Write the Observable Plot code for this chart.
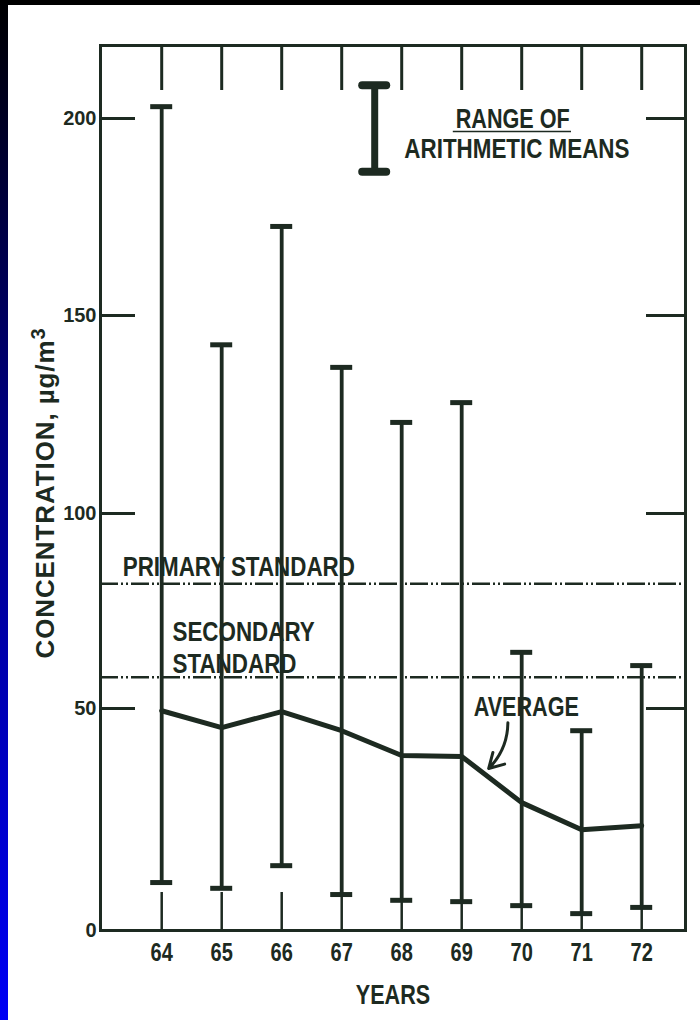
<!DOCTYPE html>
<html><head><meta charset="utf-8">
<script src="https://cdn.jsdelivr.net/npm/d3@7"></script>
<script src="https://cdn.jsdelivr.net/npm/@observablehq/plot@0.6"></script>
<style>
html,body{margin:0;padding:0;background:#fff;width:700px;height:1020px;overflow:hidden}
#topband{position:absolute;left:0;top:0;width:700px;height:5px;background:#000;z-index:2}
#leftband{position:absolute;left:0;top:0;width:8px;height:1020px;background:linear-gradient(#000 0%,#00007a 40%,#0000f5 100%);z-index:2}
#chart{position:absolute;left:0;top:0}
</style></head><body>
<div id="chart"></div><div id="topband"></div><div id="leftband"></div>
<script>
// ---- data ----
const years = [64, 65, 66, 67, 68, 69, 70, 71, 72];
const rangeHigh = [203, 142.6, 172.6, 136.9, 123, 128, 64.4, 45, 61];
const rangeLow = [10.8, 9.5, 14.6, 8.1, 6.8, 6.5, 5.6, 3.8, 5.2];
const average = [49.5, 45.7, 49.3, 45.0, 39.4, 39.2, 28.8, 22.7, 23.6];
const standardNames = ["PRIMARY STANDARD", "SECONDARY\nSTANDARD"];
const standardValues = [82, 58];
const yTicks = [0, 50, 100, 150, 200];
const xTicks = years;
const xLabel = "YEARS";
const yLabel = "CONCENTRATION, \u00B5g/m";
const yLabelSup = "3";
const legendLines = ["RANGE OF", "ARITHMETIC MEANS"];
const averageLabel = "AVERAGE";

// ---- build table ----
const table = years.map((year, i) => ({year, high: rangeHigh[i], low: rangeLow[i], avg: average[i]}));

const ink = "#1d2a21";
const font = "'Liberation Sans',Arial,sans-serif";
const T = {fontFamily: font, fontWeight: "bold", fill: ink};

// the scanned axis is slightly uneven: warp values through its printed tick marks
const yWarp = d3.scaleLinear().domain([0, 50, 100, 150, 200, 218.5]).range([0, 222, 417, 615, 812, 885]);
// axis marks work in the (warped) scale space
const yTickPos = yTicks.map(yWarp);
const yTickFmt = d => String(Math.round(yWarp.invert(d)));

const chart = Plot.plot({
  width: 700,
  height: 1020,
  marginLeft: 100,
  marginRight: 15,
  marginTop: 45,
  marginBottom: 90,
  style: {background: "transparent", color: ink, fontFamily: font},
  x: {domain: [62.98, 72.73]},
  y: {transform: yWarp, domain: [0, 885]},
  marks: [
    // standards
    Plot.ruleY(standardValues, {y: d => d, stroke: ink, strokeWidth: 2.5, strokeDasharray: "18,3,2,3,2,3"}),
    // range bars
    Plot.ruleX(table, {x: "year", y1: "low", y2: "high", stroke: ink, strokeWidth: 3.8}),
    Plot.ruleY(table, {y: "high", x1: "year", x2: "year", insetLeft: -11, insetRight: -11, stroke: ink, strokeWidth: 5}),
    Plot.ruleY(table, {y: "low", x1: "year", x2: "year", insetLeft: -11, insetRight: -11, stroke: ink, strokeWidth: 5}),
    // average line
    Plot.line(table, {x: "year", y: "avg", stroke: ink, strokeWidth: 5, strokeLinejoin: "round"}),
    // frame and inner ticks
    Plot.frame({stroke: ink, strokeWidth: 3}),
    Plot.axisX({anchor: "top", ticks: xTicks, tickSize: -44, strokeWidth: 3, fill: "none", label: null}),
    Plot.axisX({anchor: "bottom", ticks: xTicks, tickSize: -38, strokeWidth: 2.5, fill: "none", label: null}),
    Plot.axisY({anchor: "left", ticks: yTickPos.slice(1), tickSize: -35, strokeWidth: 3, fill: "none", label: null}),
    Plot.axisY({anchor: "right", ticks: yTickPos.slice(1), tickSize: -40, strokeWidth: 3, fill: "none", label: null}),
    // tick labels
    Plot.axisX({anchor: "bottom", ticks: xTicks, tickSize: 0, tickPadding: 13, fontSize: 25, fontWeight: "bold", fontFamily: font, label: null, tickFormat: d => String(d)}),
    Plot.axisY({anchor: "left", ticks: yTickPos, tickSize: 0, tickPadding: 4, fontSize: 20, fontWeight: "bold", fontFamily: font, label: null, tickFormat: yTickFmt, className: "ytick"}),
    // axis titles
    Plot.text([xLabel], {text: d => d, frameAnchor: "bottom", dy: 73, lineAnchor: "bottom", fontSize: 27, ...T}),
    Plot.text([yLabel], {text: d => d, frameAnchor: "left", textAnchor: "middle", dx: -55, dy: 5, rotate: -90, fontSize: 26, ...T}),
    // standard labels
    Plot.text([standardNames[0]], {text: d => d, x: 63.35, y: standardValues[0], dy: -8, textAnchor: "start", lineAnchor: "bottom", fontSize: 28, ...T}),
    Plot.text([standardNames[1]], {text: d => d, x: 64.18, y: standardValues[1], dy: -4, textAnchor: "start", lineAnchor: "bottom", lineHeight: 1.15, fontSize: 28, ...T}),
    // average annotation
    Plot.text([averageLabel], {text: d => d, x: 69.2, y: 48.2, textAnchor: "start", lineAnchor: "bottom", fontSize: 27, ...T}),
    Plot.arrow([0], {x1: 69.77, y1: 46.8, x2: 69.45, y2: 36.5, bend: 22, stroke: ink, strokeWidth: 3, headLength: 12}),
    // legend
    Plot.ruleX([0], {x: 67.55, y1: 186.5, y2: 208.4, stroke: ink, strokeWidth: 7}),
    Plot.ruleY([208.4, 186.5], {y: d => d, x1: 67.55, x2: 67.55, insetLeft: -12, insetRight: -12, stroke: ink, strokeWidth: 8, strokeLinecap: "round"}),
    Plot.text([legendLines[0]], {text: d => d, x: 69.85, y: 197.7, lineAnchor: "bottom", fontSize: 27, ...T}),
    Plot.ruleY([196.7], {y: d => d, x1: 68.86, x2: 70.83, stroke: ink, strokeWidth: 1.5}),
    Plot.text([legendLines[1]], {text: d => d, x: 69.92, y: 190.1, lineAnchor: "bottom", fontSize: 28, ...T})
  ]
});
// condensed lettering like the original typeface (horizontal squeeze about each anchor)
const yTickTexts = new Set(yTicks.map(String));
d3.select(chart).selectAll("text").each(function() {
  if (this.textContent === yLabel) {
    // y title: wider letter spacing and a raised superscript 3
    this.setAttribute("letter-spacing", "0.9");
    const sup = document.createElementNS("http://www.w3.org/2000/svg", "tspan");
    sup.setAttribute("dy", "-0.45em");
    sup.setAttribute("font-size", "20");
    sup.textContent = yLabelSup;
    this.appendChild(sup);
    return;
  }
  if (yTickTexts.has(this.textContent)) return; // y tick numbers are in a wider face
  const t = this.getAttribute("transform") || "";
  this.setAttribute("transform", t + " scale(0.8,1)");
});
document.getElementById("chart").append(chart);
</script>
</body></html>
